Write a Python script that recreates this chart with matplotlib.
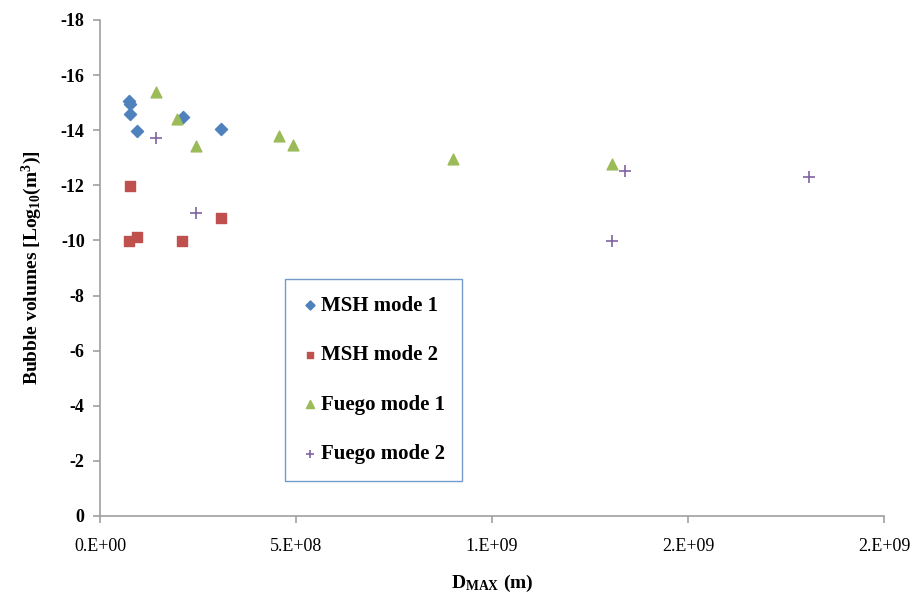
import matplotlib
matplotlib.use("Agg")
import matplotlib.pyplot as plt
from matplotlib.ticker import FuncFormatter, MultipleLocator

plt.rcParams['font.family'] = ['Liberation Serif', 'DejaVu Serif']
plt.rcParams['mathtext.fontset'] = 'custom'
plt.rcParams['mathtext.rm'] = 'Liberation Serif:bold'
plt.rcParams['mathtext.it'] = 'Liberation Serif:bold'
plt.rcParams['mathtext.bf'] = 'Liberation Serif:bold'

# MSH mode 1
msh1_x = [7.4e7, 7.65e7, 7.65e7, 9.4e7, 2.12e8, 3.09e8]
msh1_y = [-15.06, -14.95, -14.59, -13.97, -14.47, -14.03]
# MSH mode 2
msh2_x = [7.7e7, 7.5e7, 9.4e7, 2.1e8, 3.09e8]
msh2_y = [-11.98, -9.98, -10.11, -9.98, -10.82]
# Fuego mode 1
fue1_x = [1.44e8, 1.97e8, 2.44e8, 4.56e8, 4.93e8, 9.01e8, 1.306e9]
fue1_y = [-15.4, -14.4, -13.42, -13.79, -13.47, -12.95, -12.77]
# Fuego mode 2
fue2_x = [1.44e8, 2.45e8, 1.307e9, 1.339e9, 1.808e9]
fue2_y = [-13.73, -11.0, -9.98, -12.52, -12.29]

fig = plt.figure(figsize=(9.21, 5.99), dpi=100)
ax = fig.add_axes([100 / 921, 83 / 599, 784 / 921, 496 / 599])

ax.scatter(msh1_x, msh1_y, marker='D', s=38, color='#4F81BD', label='MSH mode 1', zorder=3)
ax.scatter(msh2_x, msh2_y, marker='s', s=42, color='#C0504D', label='MSH mode 2', zorder=3)
ax.scatter(fue1_x, fue1_y, marker='^', s=60, color='#9BBB59', label='Fuego mode 1', zorder=3)
ax.scatter(fue2_x, fue2_y, marker='+', s=70, color='#8064A2', linewidths=1.2,
           label='Fuego mode 2', zorder=3)

ax.set_xlim(0, 2e9)
ax.set_ylim(0, -18)
ax.xaxis.set_major_locator(MultipleLocator(5e8))
ax.yaxis.set_major_locator(MultipleLocator(2))
ax.xaxis.set_major_formatter(FuncFormatter(lambda v, p: f"{v:#.0E}"))
ax.yaxis.set_major_formatter(FuncFormatter(lambda v, p: f"{v:.0f}"))

for s in ['top', 'right']:
    ax.spines[s].set_visible(False)
for s in ['left', 'bottom']:
    ax.spines[s].set_color('#A0A0A0')
    ax.spines[s].set_linewidth(1.2)
ax.tick_params(axis='both', direction='out', length=5, color='#A0A0A0', width=1.2)
ax.tick_params(axis='x', labelsize=13, pad=11)
ax.tick_params(axis='y', labelsize=13, pad=6)
for t in ax.get_yticklabels():
    t.set_fontweight('bold')

ax.set_xlabel(r'D$_{\mathrm{MAX}}$ (m)', fontsize=14, fontweight='bold', labelpad=13)
ax.set_ylabel(r'Bubble volumes [Log$_{10}$(m$^{3}$)]', fontsize=14, fontweight='bold', labelpad=12)

leg = ax.legend(loc='upper left', bbox_to_anchor=(185 / 784, 237 / 496), frameon=True,
                borderaxespad=0, fancybox=False, edgecolor='#4F81BD',
                handletextpad=0.15, handlelength=0.8, labelspacing=1.42,
                borderpad=0.8, markerscale=0.75,
                prop={'family': 'Liberation Serif', 'weight': 'bold', 'size': 15})
leg.get_frame().set_linewidth(1.0)

fig.savefig('out.png', dpi=100)
